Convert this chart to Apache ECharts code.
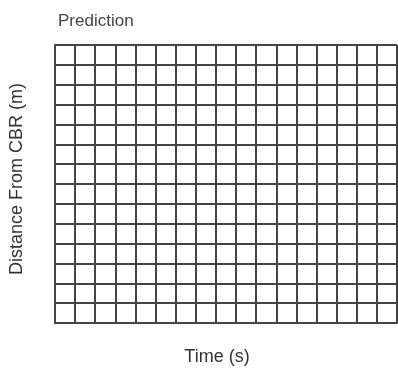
<!DOCTYPE html>
<html>
<head>
<meta charset="utf-8">
<script src="https://cdn.jsdelivr.net/npm/echarts@6/dist/echarts.min.js"></script>
<style>html,body{margin:0;padding:0;background:#fff}#c{width:398px;height:371px}</style>
</head>
<body>
<div id="c"></div>
<script>
// Blank prediction grid: tick positions (one line per tick)
var timeTicks = [0,1,2,3,4,5,6,7,8,9,10,11,12,13,14,15,16,17];
var distanceTicks = [0,1,2,3,4,5,6,7,8,9,10,11,12,13,14];
var predictionPoints = []; // nothing plotted yet

var chart = echarts.init(document.getElementById('c'), null, {renderer: 'canvas'});
var lineStyle = {color: '#444', width: 2};
var font = 'Liberation Sans, Arial, sans-serif';
chart.setOption({
  animation: false,
  title: {
    text: 'Prediction', left: 53, top: 8,
    textStyle: {fontFamily: font, fontSize: 17, fontWeight: 'normal', color: '#444'}
  },
  grid: {left: 55, top: 45, right: 1, bottom: 46, containLabel: false},
  xAxis: {
    type: 'value', min: timeTicks[0], max: timeTicks[timeTicks.length - 1], interval: 1,
    name: 'Time (s)', nameLocation: 'middle', nameGap: 25,
    nameTextStyle: {fontFamily: font, fontSize: 18, color: '#333', padding: [0, 18, 0, 0]},
    axisLine: {show: true, lineStyle: lineStyle},
    axisTick: {show: false}, axisLabel: {show: false},
    splitLine: {show: true, lineStyle: lineStyle}
  },
  yAxis: {
    type: 'value', min: distanceTicks[0], max: distanceTicks[distanceTicks.length - 1], interval: 1,
    name: 'Distance From CBR (m)', nameLocation: 'middle', nameGap: 29,
    nameTextStyle: {fontFamily: font, fontSize: 18, color: '#333', padding: [0, 0, 0, 10]},
    axisLine: {show: true, lineStyle: lineStyle},
    axisTick: {show: false}, axisLabel: {show: false},
    splitLine: {show: true, lineStyle: lineStyle}
  },
  series: [{type: 'scatter', data: predictionPoints}]
});
</script>
</body>
</html>
